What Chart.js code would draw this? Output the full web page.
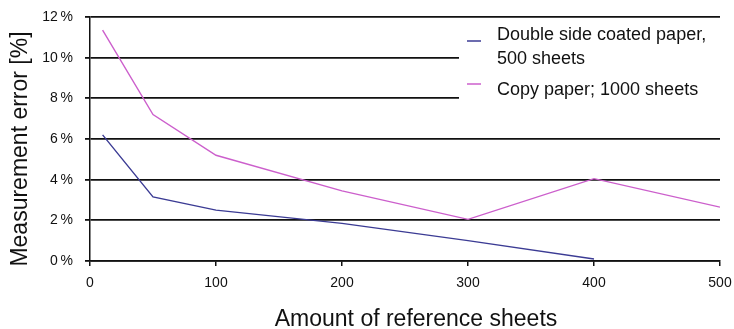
<!DOCTYPE html>
<html>
<head>
<meta charset="utf-8">
<script src="https://cdn.jsdelivr.net/npm/chart.js@4/dist/chart.umd.min.js"></script>
<style>
  html, body { margin: 0; padding: 0; background: #fff; }
  #wrap { width: 734px; height: 329px; position: relative; }
</style>
</head>
<body>
<div id="wrap"><canvas id="errorChart"></canvas></div>
<script>
// Measurement error vs. number of reference sheets

const sheetCounts = [10, 50, 100, 200, 300, 400, 500];
const coatedError = [6.2, 3.15, 2.5, 1.85, 1.0, 0.1, null];
const copyError = [11.35, 7.2, 5.2, 3.45, 2.05, 4.05, 2.65];
const seriesNames = [
  ['Double side coated paper,', '500 sheets'],
  ['Copy paper; 1000 sheets'],
];
const seriesColors = ['#3b3b94', '#cc5fcc'];
const yTicks = [0, 2, 4, 6, 8, 10, 12];
const xTicks = [0, 100, 200, 300, 400, 500];
const xTitle = 'Amount of reference sheets';
const yTitle = 'Measurement error [%]';

const FONT = '"Liberation Sans", Arial, sans-serif';

const toPoints = (values) =>
  sheetCounts
    .map((x, i) => ({ x: x, y: values[i] }))
    .filter((p) => p.y !== null);

// white legend box sitting on top of the grid, right side
const boxLegend = {
  id: 'boxLegend',
  beforeDatasetsDraw(chart) {
    const { ctx, chartArea } = chart;
    const left = 459;
    const top = chartArea.top + 4;
    ctx.save();
    ctx.fillStyle = '#fff';
    ctx.fillRect(left, top, chartArea.right + 4 - left, 100);

    ctx.font = '18px ' + FONT;
    ctx.textBaseline = 'middle';
    ctx.fillStyle = '#111';
    const rows = [
      { lineY: 41, textY: [35, 59] },
      { lineY: 84, textY: [90] },
    ];
    rows.forEach((row, i) => {
      ctx.strokeStyle = seriesColors[i];
      ctx.lineWidth = 1.5;
      ctx.beginPath();
      ctx.moveTo(467, row.lineY);
      ctx.lineTo(481, row.lineY);
      ctx.stroke();
      seriesNames[i].forEach((line, j) => {
        ctx.fillText(line, 497, row.textY[j]);
      });
    });
    ctx.restore();
  },
};

// axis titles, placed a little off the plot centre
const axisTitles = {
  id: 'axisTitles',
  afterDraw(chart) {
    const { ctx, chartArea } = chart;
    ctx.save();
    ctx.font = '23px ' + FONT;
    ctx.fillStyle = '#111';
    ctx.textAlign = 'center';
    ctx.textBaseline = 'alphabetic';
    ctx.fillText(xTitle, (chartArea.left + chartArea.right) / 2 + 11, 326);
    ctx.translate(27, (chartArea.top + chartArea.bottom) / 2 + 10);
    ctx.rotate(-Math.PI / 2);
    ctx.fillText(yTitle, 0, 0);
    ctx.restore();
  },
};

new Chart(document.getElementById('errorChart'), {
  type: 'line',
  data: {
    datasets: [
      {
        label: seriesNames[0].join(' '),
        data: toPoints(coatedError),
        borderColor: seriesColors[0],
        borderWidth: 1.4,
        pointRadius: 0,
        tension: 0,
      },
      {
        label: seriesNames[1].join(' '),
        data: toPoints(copyError),
        borderColor: seriesColors[1],
        borderWidth: 1.4,
        pointRadius: 0,
        tension: 0,
      },
    ],
  },
  options: {
    responsive: true,
    maintainAspectRatio: false,
    animation: false,
    layout: { padding: { top: 17, right: 14, bottom: 0, left: 0 } },
    plugins: {
      legend: { display: false },
      tooltip: { enabled: false },
    },
    scales: {
      x: {
        type: 'linear',
        min: 0,
        max: 500,
        afterBuildTicks: (scale) => {
          scale.ticks = xTicks.map((v) => ({ value: v }));
        },
        afterFit: (scale) => {
          scale.height = 68;
          // let the end labels hang over the padding
          scale.paddingLeft = 0;
          scale.paddingRight = 0;
        },
        grid: {
          drawOnChartArea: false,
          drawTicks: true,
          tickLength: 5,
          color: '#111',
          lineWidth: 1.5,
        },
        border: { display: true, color: '#111', width: 1.5 },
        ticks: {
          color: '#111',
          padding: 9,
          maxRotation: 0,
          font: { family: FONT, size: 14 },
        },
      },
      y: {
        min: 0,
        max: 12,
        afterBuildTicks: (scale) => {
          scale.ticks = yTicks.map((v) => ({ value: v }));
        },
        afterFit: (scale) => {
          scale.width = 90;
          scale.paddingTop = 0;
          scale.paddingBottom = 0;
        },
        grid: {
          drawTicks: true,
          tickLength: 5,
          color: '#111',
          lineWidth: 1.8,
        },
        border: { display: true, color: '#111', width: 1.5 },
        ticks: {
          color: '#111',
          padding: 12,
          font: { family: FONT, size: 14 },
          callback: (v) => v + '\u2009%',
        },
      },
    },
  },
  plugins: [boxLegend, axisTitles],
});
</script>
</body>
</html>
